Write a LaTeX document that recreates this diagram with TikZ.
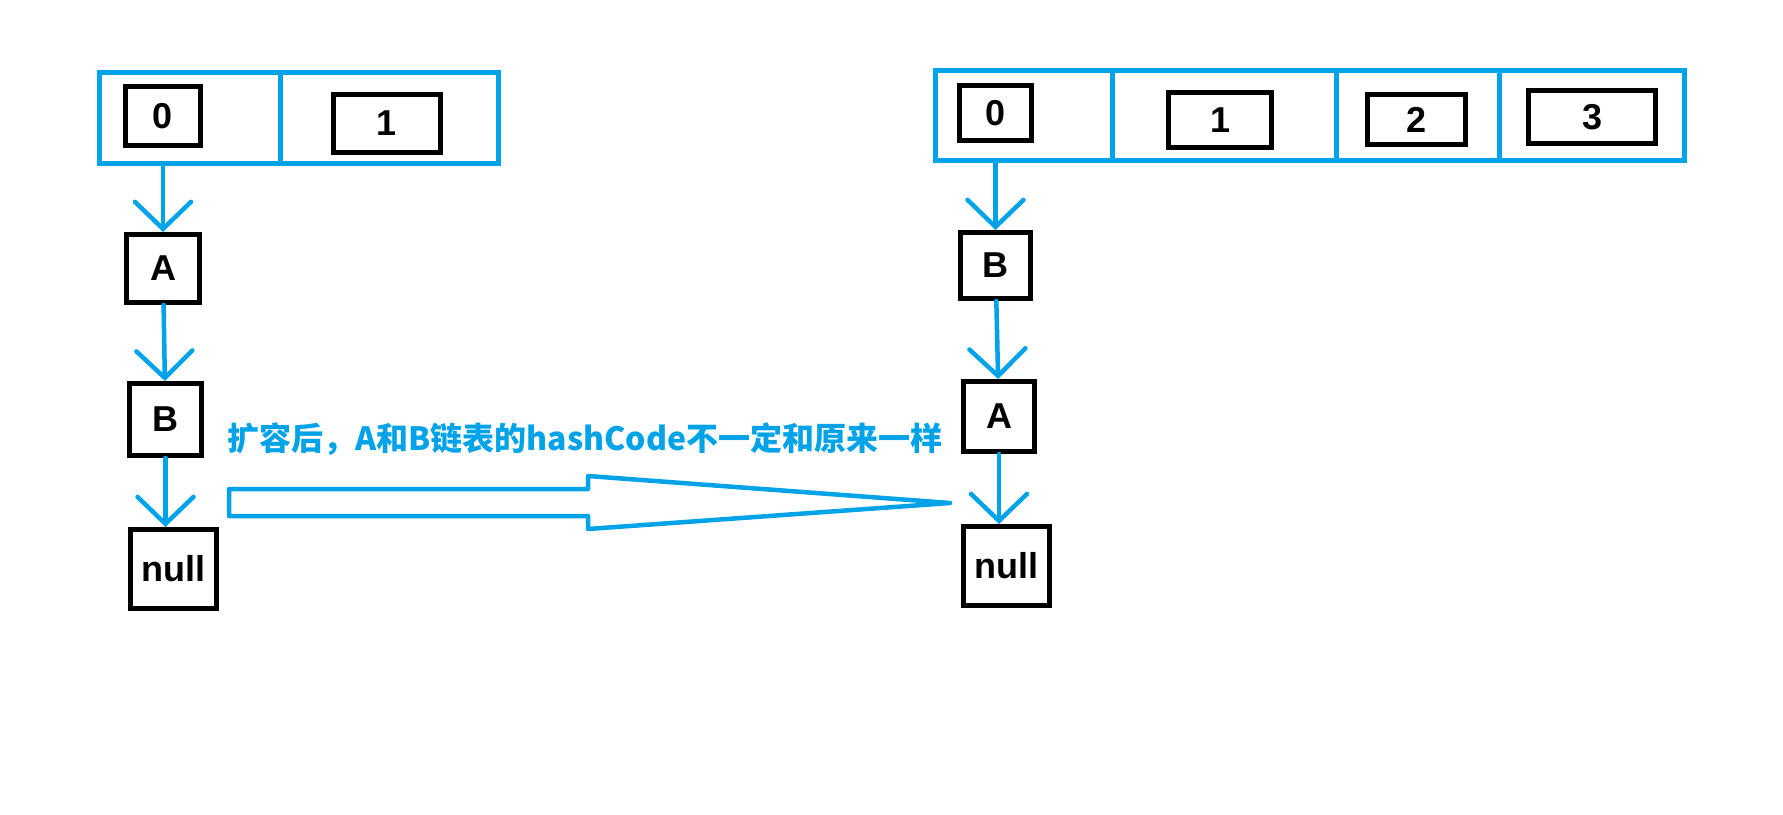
\documentclass[tikz,border=0pt]{standalone}
\usepackage{fontspec}
\setmainfont{Liberation Sans}
\newfontfamily\cjk{Noto Sans CJK SC}
\usepackage{tikz}
\usetikzlibrary{arrows.meta}
\usetikzlibrary{positioning}

\definecolor{paintblue}{RGB}{0,162,232}

\begin{document}
\begin{tikzpicture}[x=1pt,y=-1pt,
  cell/.style={draw=paintblue, line width=5pt, minimum width=#1, minimum height=91pt, inner sep=0pt},
  box/.style 2 args={draw=black, line width=5pt, minimum width=#1, minimum height=#2, inner sep=0pt,
    font=\bfseries\fontsize{36}{36}\selectfont},
  link/.style={draw=paintblue, line width=4.5pt, line cap=round,
    -{Straight Barb[length=27pt,width=56pt,line cap=round]}}]

\useasboundingbox (0,0) rectangle (1783,814);

% old table
\node (old0) [cell=181pt] at (189.5,117.5) {};
\node (old1) [cell=218pt] at (389,117.5) {};
\node (k0) [box={75pt}{59pt}] at (163,116) {0};
\node (k1) [box={107pt}{58pt}] at (387,123.5) {1};

% old list
\node (a1) [box={73pt}{68pt}] at (163,268.5) {A};
\node (b1) [box={72pt}{72pt}] at (165.5,419.5) {B};
\node (n1) [box={86pt}{79pt}] at (173.5,569) {null};

\draw[link] (old0.south -| a1) -- (a1);
\draw[link] (a1) -- (b1);
\draw[link] (b1) -- (b1 |- n1.north);

% new table
\node (new0) [cell=177pt, minimum height=90pt] at (1023.5,115) {};
\node (new1) [cell=224pt, minimum height=90pt] at (1224,115) {};
\node (new2) [cell=163pt, minimum height=90pt] at (1417.5,115) {};
\node (new3) [cell=185pt, minimum height=90pt] at (1591.5,115) {};
\node (r0) [box={72pt}{55pt}] at (995.5,113) {0};
\node (r1) [box={103pt}{55pt}] at (1220,120) {1};
\node (r2) [box={98pt}{50pt}] at (1416.5,119.5) {2};
\node (r3) [box={127pt}{53pt}] at (1592,117) {3};

% new list
\node (b2) [box={70pt}{66pt}] at (995.5,265.5) {B};
\node (a2) [box={71pt}{70pt}] at (999,416.5) {A};
\node (n2) [box={86pt}{79pt}] at (1006.5,566) {null};

\draw[link] (new0.south -| b2) -- (b2);
\draw[link] (b2) -- (a2);
\draw[link] (a2) -- (a2 |- n2.north);

% resize note
\node (note) [anchor=west, inner sep=0pt, text=paintblue, font=\cjk\bfseries\fontsize{32}{32}\selectfont]
  at (227,439) {扩容后，A和B链表的hashCode不一定和原来一样};

\draw[paintblue, line width=4.5pt, line join=round]
  (229,489) -- (588,489) -- (588,476) -- (950,503) -- (588,529) -- (588,516) -- (229,516) -- cycle;

\end{tikzpicture}
\end{document}
